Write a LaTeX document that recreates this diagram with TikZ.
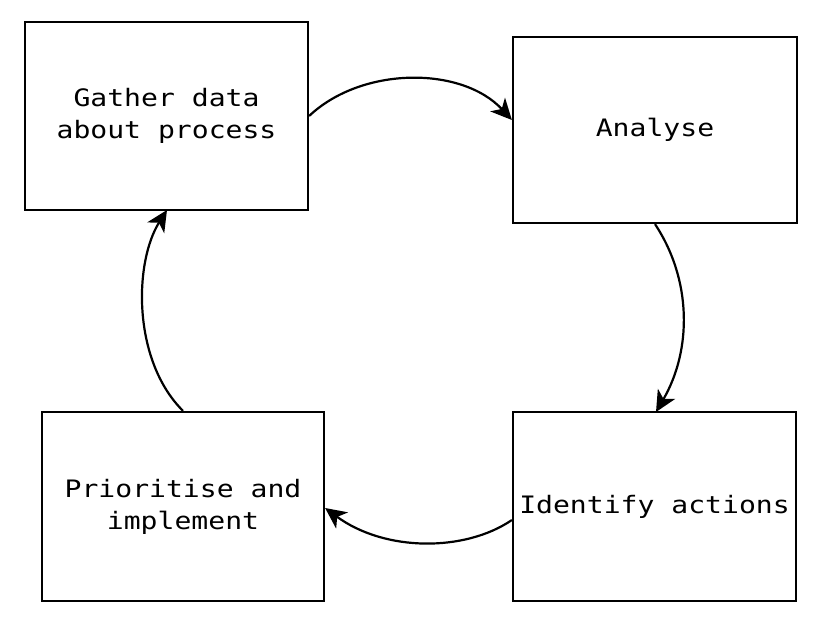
\documentclass[tikz,border=0pt]{standalone}
\usepackage{fontspec}
\setmonofont[FakeStretch=1.17]{DejaVu Sans Mono}
\usetikzlibrary{arrows.meta}
\begin{document}
\begin{tikzpicture}[x=1pt,y=-1pt,
  stepbox/.style={draw=black,line width=2.2pt,fill=white,inner sep=0pt},
  lbl/.style={font=\ttfamily\fontsize{24}{32}\selectfont,align=center},
  conn/.style={line width=2.2pt,-{Stealth[length=21pt,width=20pt,inset=6pt]}}]
\useasboundingbox (0,0) rectangle (814,616);
\node[stepbox,minimum width=283pt,minimum height=188pt] (b1) at (166.5,116) {};
\node[stepbox,minimum width=284pt,minimum height=186pt] (b2) at (655,130) {};
\node[stepbox,minimum width=283pt,minimum height=189pt] (b3) at (654.5,506.5) {};
\node[stepbox,minimum width=282pt,minimum height=189pt] (b4) at (183,506.5) {};
\node[lbl] (t1) at (b1.center) {Gather data\\about process};
\node[lbl] (t2) at (b2.center) {Analyse};
\node[lbl] (t3) at (b3.center) {Identify actions};
\node[lbl] (t4) at (b4.center) {Prioritise and\\implement};
\coordinate (a1s) at (b1.east |- 0,116);
\coordinate (a1e) at (b2.west |- 0,120);
\coordinate (a2s) at (b2.south);
\coordinate (a2e) at (656,412);
\coordinate (a3s) at (b3.west |- 0,520);
\coordinate (a3e) at (b4.east |- 0,508);
\coordinate (a4s) at (b4.north);
\coordinate (a4e) at (167,210);
\draw[conn] (a1s) .. controls (362,66) and (462,66) .. (a1e);
\draw[conn] (a2s) .. controls (692,280) and (692,350) .. (a2e);
\draw[conn] (a3s) .. controls (465,552) and (385,552) .. (a3e);
\draw[conn] (a4s) .. controls (132,360) and (134,262) .. (a4e);
\end{tikzpicture}
\end{document}
